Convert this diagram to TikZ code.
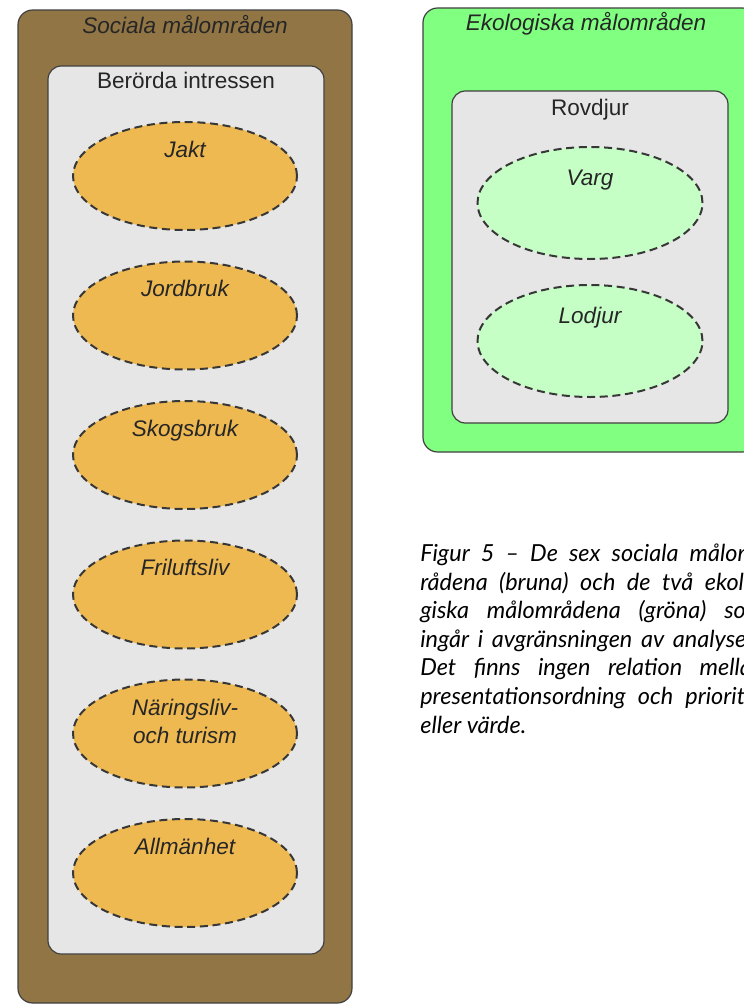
\documentclass[tikz,border=0pt]{standalone}
\usepackage{fontspec}
\usepackage{tikz}
\usetikzlibrary{shapes.geometric}
\setmainfont{Liberation Sans}
\newfontfamily\captionfont{Lato}
\definecolor{brownfill}{RGB}{145,117,69}
\definecolor{boxgray}{RGB}{230,230,230}
\definecolor{orangefill}{RGB}{239,185,82}
\definecolor{greenfill}{RGB}{128,255,128}
\definecolor{greenlight}{RGB}{198,255,198}
\definecolor{dashgray}{RGB}{55,55,55}

\begin{document}
\begin{tikzpicture}[x=0.75pt,y=-0.75pt]
	\tikzstyle{areabox}=[draw=black!75, line width=0.9pt, rounded corners=11pt]
	\tikzstyle{groupbox}=[draw=black!75, line width=0.9pt, rounded corners=10pt, fill=boxgray]
	\tikzstyle{interest}=[ellipse, draw=dashgray, dash pattern=on 6pt off 3.5pt, line width=1.5pt, fill=orangefill, minimum width=168pt, minimum height=81pt, inner sep=0pt]
	\tikzstyle{species}=[interest, fill=greenlight, minimum width=168.75pt, minimum height=84pt]
	\tikzstyle{heading}=[font=\fontsize{16.9}{21}\selectfont\itshape, text=black!85, anchor=base, inner sep=0pt]
	\tikzstyle{grouptext}=[font=\fontsize{16.9}{21}\selectfont, text=black!85, anchor=base, inner sep=0pt]
	\tikzstyle{itemtext}=[grouptext, font=\fontsize{16.9}{21}\selectfont\itshape]
	\useasboundingbox (0,0) rectangle (743,1007);
	\fill[white] (0,0) rectangle (743,1007);
	% sociala
	\draw[areabox, fill=brownfill] (18,10) rectangle (352,1003);
	\node[heading] (social) at (185,33) {Sociala målområden};
	\draw[groupbox] (48,66) rectangle (324,954);
	\node[grouptext] (interests) at (186,88) {Berörda intressen};
	\foreach \name/\y/\txt in {jakt/176/Jakt, jordbruk/315.5/Jordbruk, skogsbruk/455/Skogsbruk, friluftsliv/594.5/Friluftsliv, allman/873/Allmänhet}{
		\node[interest] (\name) at (185,\y) {};
		\node[itemtext] (\name-text) at (185,\y-19) {\txt};
	}
	\node[interest] (naring) at (185,733.5) {};
	\node[itemtext] (naring-text) at (185,715) {Näringsliv-};
	\node[itemtext] (naring-text2) at (185,743) {och turism};
	% ekologiska
	\draw[areabox, fill=greenfill] (423,8) rectangle (757,452);
	\node[heading] (ecol) at (586,30) {Ekologiska målområden};
	\draw[groupbox] (452,91) rectangle (728,423);
	\node[grouptext] (predators) at (590,115) {Rovdjur};
	\node[species] (varg) at (590,203) {};
	\node[itemtext] (varg-text) at (590,185) {Varg};
	\node[species] (lodjur) at (590,341) {};
	\node[itemtext] (lodjur-text) at (590,323) {Lodjur};
	% caption (base anchor sits on the last line)
	\node[anchor=base west, inner sep=0pt, align=left, font=\captionfont\itshape\fontsize{17.6}{21.4}\selectfont] (caption) at (420,733) {%
		\makebox[258pt][s]{Figur 5 – De sex sociala målom-}\\
		\makebox[258pt][s]{rådena (bruna) och de två ekolo-}\\
		\makebox[258pt][s]{giska målområdena (gröna) som}\\
		\makebox[258pt][s]{ingår i avgränsningen av analysen.}\\
		\makebox[258pt][s]{Det finns ingen relation mellan}\\
		\makebox[258pt][s]{presentationsordning och prioritet}\\
		eller värde.};
\end{tikzpicture}
\end{document}
